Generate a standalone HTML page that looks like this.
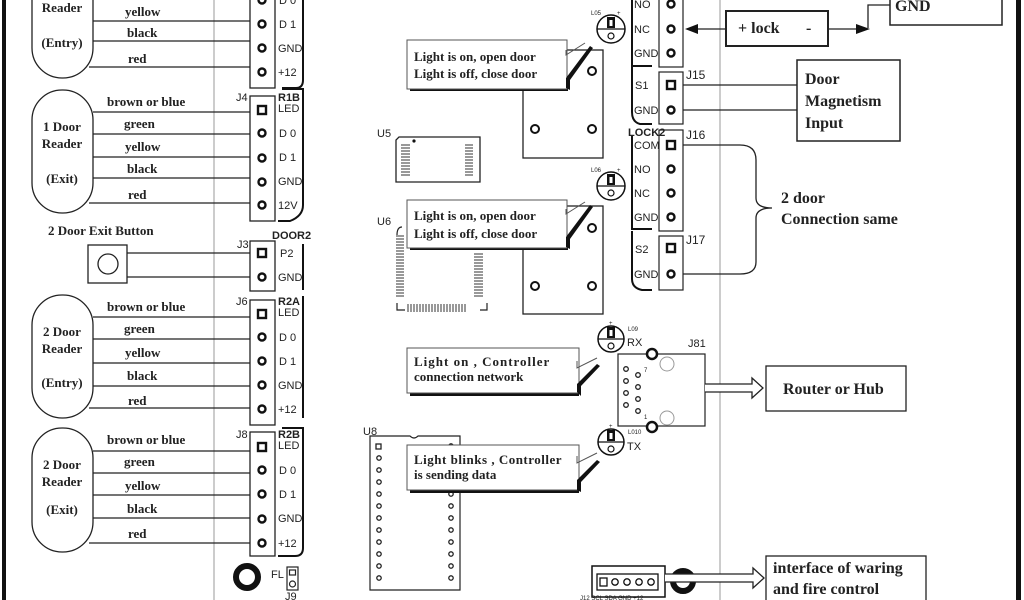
<!DOCTYPE html>
<html><head><meta charset="utf-8"><style>
html,body{margin:0;padding:0;background:#fff}
svg{display:block}
.s{font-family:"Liberation Serif",serif;font-weight:bold;font-size:13px;fill:#222}
.b{font-family:"Liberation Serif",serif;font-weight:bold;font-size:16px;fill:#222}
.p{font-family:"Liberation Sans",sans-serif;font-size:11px;fill:#222}
.t{font-family:"Liberation Sans",sans-serif;font-size:6px;fill:#222}
</style></head><body>
<svg width="1024" height="600" viewBox="0 0 1024 600" xmlns="http://www.w3.org/2000/svg">
<rect width="1024" height="600" fill="#fff"/>
<!-- borders -->
<rect x="2" y="0" width="4" height="600" fill="#111"/>
<rect x="1016" y="0" width="5" height="600" fill="#111"/>
<line x1="214" y1="0" x2="214" y2="600" stroke="#999" stroke-width="1"/>
<line x1="720" y1="0" x2="720" y2="600" stroke="#999" stroke-width="1"/>

<g stroke="#222" stroke-width="1.3" fill="none">
<!-- Reader ovals -->
<rect x="32" y="-45" width="61" height="123" rx="30"/>
<rect x="32" y="90" width="61" height="123" rx="30"/>
<rect x="32" y="295" width="61" height="123" rx="30"/>
<rect x="32" y="428" width="61" height="124" rx="30"/>
<!-- wires -->
<path d="M93 21H250M93 41H250M89 67H250"/>
<path d="M93 112H250M93 134H250M93 157H250M93 178H250M89 203H250"/>
<path d="M93 317H250M93 339H250M93 363H250M93 386H250M89 408H250"/>
<path d="M93 451H250M93 473H250M93 495H250M93 518H250M89 543H250"/>
<!-- exit button -->
<rect x="88" y="245" width="39" height="38"/>
<circle cx="108" cy="264" r="10"/>
<path d="M127 253H250M127 277H250"/>
<!-- connector boxes -->
<rect x="250" y="-10" width="25" height="98"/>
<rect x="250" y="96" width="25" height="125"/>
<rect x="250" y="241" width="25" height="50"/>
<rect x="250" y="300" width="25" height="125"/>
<rect x="250" y="432" width="25" height="124"/>
</g>
<!-- board edge brackets left -->
<g stroke="#111" stroke-width="2" fill="none">
<path d="M303 0V80Q303 88 296 88H282"/>
<path d="M282 89H303V205Q303 216 290 221H278"/>
<path d="M303 244V290"/>
<path d="M303 296V418"/>
<path d="M282 428H303V548Q303 556 295 556H278"/>
</g>
<!-- pins left -->
<g fill="none" stroke="#111" stroke-width="2.4">
<circle cx="262" cy="0" r="3.5"/><circle cx="262" cy="24" r="3.5"/><circle cx="262" cy="48" r="3.5"/><circle cx="262" cy="72" r="3.5"/>
<circle cx="262" cy="133" r="3.5"/><circle cx="262" cy="158" r="3.5"/><circle cx="262" cy="182" r="3.5"/><circle cx="262" cy="205" r="3.5"/>
<circle cx="262" cy="277" r="3.5"/>
<circle cx="262" cy="337" r="3.5"/><circle cx="262" cy="361" r="3.5"/><circle cx="262" cy="385" r="3.5"/><circle cx="262" cy="409" r="3.5"/>
<circle cx="262" cy="470" r="3.5"/><circle cx="262" cy="494" r="3.5"/><circle cx="262" cy="519" r="3.5"/><circle cx="262" cy="543" r="3.5"/>
<rect x="258" y="106" width="8" height="8"/><rect x="258" y="249" width="8" height="8"/><rect x="258" y="310" width="8" height="8"/><rect x="258" y="443" width="8" height="8"/>
</g>
<circle cx="247" cy="577" r="11" fill="none" stroke="#111" stroke-width="6"/>
<g fill="none" stroke="#222" stroke-width="1.2"><rect x="287" y="567" width="11" height="23"/><rect x="289.5" y="570" width="6" height="5"/><circle cx="292.5" cy="584" r="3"/></g>
<text class="p" x="271" y="578">FL</text><text class="p" x="285" y="600">J9</text>

<!-- left texts -->
<g class="s" text-anchor="middle">
<text x="62" y="12">Reader</text><text x="62" y="47">(Entry)</text>
<text x="62" y="131">1 Door</text><text x="62" y="148">Reader</text><text x="62" y="183">(Exit)</text>
<text x="62" y="336">2 Door</text><text x="62" y="353">Reader</text><text x="62" y="387">(Entry)</text>
<text x="62" y="469">2 Door</text><text x="62" y="486">Reader</text><text x="62" y="514">(Exit)</text>
</g>
<g class="s">
<text x="125" y="16">yellow</text><text x="127" y="37">black</text><text x="128" y="63">red</text>
<text x="107" y="106">brown or blue</text><text x="124" y="128">green</text><text x="125" y="151">yellow</text><text x="127" y="173">black</text><text x="128" y="199">red</text>
<text x="48" y="235">2 Door Exit Button</text>
<text x="107" y="311">brown or blue</text><text x="124" y="333">green</text><text x="125" y="357">yellow</text><text x="127" y="380">black</text><text x="128" y="405">red</text>
<text x="107" y="444">brown or blue</text><text x="124" y="466">green</text><text x="125" y="490">yellow</text><text x="127" y="513">black</text><text x="128" y="538">red</text>
</g>
<g class="p">
<text x="279" y="4">D 0</text><text x="279" y="28">D 1</text><text x="278" y="52">GND</text><text x="278" y="76">+12</text>
<text x="236" y="101">J4</text><text x="278" y="101" font-weight="bold">R1B</text><text x="278" y="112">LED</text>
<text x="279" y="137">D 0</text><text x="279" y="161">D 1</text><text x="278" y="185">GND</text><text x="278" y="209">12V</text>
<text x="272" y="239" font-weight="bold">DOOR2</text><text x="237" y="248">J3</text><text x="280" y="257">P2</text><text x="278" y="281">GND</text>
<text x="236" y="305">J6</text><text x="278" y="305" font-weight="bold">R2A</text><text x="278" y="316">LED</text>
<text x="279" y="341">D 0</text><text x="279" y="365">D 1</text><text x="278" y="389">GND</text><text x="278" y="413">+12</text>
<text x="236" y="438">J8</text><text x="278" y="438" font-weight="bold">R2B</text><text x="278" y="449">LED</text>
<text x="279" y="474">D 0</text><text x="279" y="498">D 1</text><text x="278" y="522">GND</text><text x="278" y="547">+12</text>
</g>

<!-- middle: relays -->
<g stroke="#222" stroke-width="1.3" fill="none">
<rect x="523" y="50" width="80" height="108"/>
<rect x="523" y="206" width="80" height="108"/>
</g>
<g fill="none" stroke="#111" stroke-width="2">
<circle cx="592" cy="71" r="4"/><circle cx="535" cy="129" r="4"/><circle cx="592" cy="129" r="4"/>
<circle cx="592" cy="228" r="4"/><circle cx="535" cy="286" r="4"/><circle cx="592" cy="286" r="4"/>
</g>
<!-- U5 -->
<text class="p" x="377" y="137">U5</text>
<path d="M399 137H480V182H396V140Z" fill="none" stroke="#222" stroke-width="1.3"/>
<g stroke="#333" stroke-width="1"><path d="M401 145H410M401 148H410M401 151H410M401 154H410M401 157H410M401 160H410M401 163H410M401 166H410M401 169H410M401 172H410M401 175H410"/>
<path d="M465 145H473M465 148H473M465 151H473M465 154H473M465 157H473M465 160H473M465 163H473M465 166H473M465 169H473M465 172H473M465 175H473"/></g>
<circle cx="414" cy="141" r="1.6" fill="#111"/>
<!-- U6 -->
<text class="p" x="377" y="225">U6</text>
<path d="M397 235Q397 227 402 227M397 303V310H405" fill="none" stroke="#222" stroke-width="1.2"/>
<g stroke="#333" stroke-width="1">
<path d="M396 236H404M396 239H404M396 242H404M396 245H404M396 248H404M396 251H404M396 254H404M396 257H404M396 260H404M396 263H404M396 266H404M396 269H404M396 272H404M396 275H404M396 278H404M396 281H404M396 284H404M396 287H404M396 290H404M396 293H404M396 296H404"/>
<path d="M474 254H483M474 257H483M474 260H483M474 263H483M474 266H483M474 269H483M474 272H483M474 275H483M474 278H483M474 281H483M474 284H483M474 287H483M474 290H483M474 293H483M474 296H483"/>
<path d="M408 304V312M411 304V312M414 304V312M417 304V312M420 304V312M423 304V312M426 304V312M429 304V312M432 304V312M435 304V312M438 304V312M441 304V312M444 304V312M447 304V312M450 304V312M453 304V312M456 304V312M459 304V312M462 304V312M465 304V312"/>
</g>
<path d="M480 310H487V303" fill="none" stroke="#222" stroke-width="1.2"/>

<!-- LEDs -->
<g stroke="#111" stroke-width="1.5" fill="#fff">
<circle cx="611" cy="29" r="14"/><circle cx="611" cy="186" r="14"/><circle cx="611" cy="339" r="13"/><circle cx="611" cy="442" r="13"/>
</g>
<g stroke="#111" stroke-width="1.2" fill="none">
<path d="M597 29H625M597 186H625M598 339H624M598 442H624"/>
<circle cx="611" cy="36" r="3"/><circle cx="611" cy="193" r="3"/><circle cx="611" cy="346" r="3"/><circle cx="611" cy="449" r="3"/>
</g>
<g fill="#111"><rect x="607" y="17" width="8" height="11"/><rect x="607" y="174" width="8" height="11"/><rect x="607" y="327" width="8" height="11"/><rect x="607" y="430" width="8" height="11"/></g>
<g fill="#fff"><rect x="609.5" y="20" width="3" height="6"/><rect x="609.5" y="177" width="3" height="6"/><rect x="609.5" y="330" width="3" height="6"/><rect x="609.5" y="433" width="3" height="6"/></g>
<g class="t"><text x="591" y="15">L05</text><text x="617" y="15">+</text><text x="591" y="172">L06</text><text x="617" y="172">+</text>
<text x="628" y="331">L09</text><text x="609" y="325">+</text><text x="628" y="434">L010</text><text x="609" y="428">+</text></g>
<text class="p" x="627" y="346">RX</text><text class="p" x="627" y="450">TX</text>

<!-- callouts -->
<g>
<rect x="410" y="86" width="158" height="5" fill="#111"/>
<rect x="407" y="40" width="160" height="49" fill="#fff" stroke="#555" stroke-width="1"/>
<path d="M566 88V78L590 46L593 48L570 80V90Z" fill="#111"/><path d="M566 50V55L585 43" stroke="#555" fill="none"/>
<text class="s" x="414" y="61">Light is on, open door</text><text class="s" x="414" y="78">Light is off, close door</text>

<rect x="410" y="245" width="158" height="5" fill="#111"/>
<rect x="407" y="200" width="160" height="48" fill="#fff" stroke="#555" stroke-width="1"/>
<path d="M566 247V237L590 205L593 207L570 239V249Z" fill="#111"/><path d="M566 209V214L585 202" stroke="#555" fill="none"/>
<text class="s" x="414" y="220">Light is on, open door</text><text class="s" x="414" y="238">Light is off, close door</text>

<rect x="410" y="392" width="169" height="4" fill="#111"/>
<rect x="407" y="348" width="172" height="45" fill="#fff" stroke="#555" stroke-width="1"/>
<path d="M577 392V384L597 364L600 366L581 386V396Z" fill="#111"/><path d="M577 361V368L597 358" stroke="#555" fill="none"/>
<text class="s" x="414" y="366" letter-spacing="1">Light on , Controller</text><text class="s" x="414" y="381">connection network</text>

<!-- U8 behind -->
<text class="p" x="363" y="435">U8</text>
<path d="M370 436H410Q414 440 418 436H460V590H370Z" fill="#fff" stroke="#222" stroke-width="1.2"/>
<g fill="none" stroke="#222" stroke-width="1.3">
<rect x="376" y="444" width="5" height="5"/>
<circle cx="379" cy="458" r="2.2"/><circle cx="379" cy="470" r="2.2"/><circle cx="379" cy="482" r="2.2"/><circle cx="379" cy="494" r="2.2"/><circle cx="379" cy="506" r="2.2"/><circle cx="379" cy="518" r="2.2"/><circle cx="379" cy="530" r="2.2"/><circle cx="379" cy="542" r="2.2"/><circle cx="379" cy="554" r="2.2"/><circle cx="379" cy="566" r="2.2"/><circle cx="379" cy="578" r="2.2"/>
<circle cx="451" cy="446" r="2.2"/><circle cx="451" cy="494" r="2.2"/><circle cx="451" cy="506" r="2.2"/><circle cx="451" cy="518" r="2.2"/><circle cx="451" cy="530" r="2.2"/><circle cx="451" cy="542" r="2.2"/><circle cx="451" cy="554" r="2.2"/><circle cx="451" cy="566" r="2.2"/><circle cx="451" cy="578" r="2.2"/>
</g>

<rect x="410" y="488" width="169" height="5" fill="#111"/>
<rect x="407" y="445" width="172" height="45" fill="#fff" stroke="#555" stroke-width="1"/>
<path d="M577 490V480L597 460L600 462L581 482V492Z" fill="#111"/><path d="M577 456V463L597 453" stroke="#555" fill="none"/>
<text class="s" x="414" y="464" letter-spacing="0.5">Light blinks , Controller</text><text class="s" x="414" y="479">is sending data</text>
</g>

<!-- J81 -->
<text class="p" x="688" y="347" font-size="12">J81</text>
<rect x="618" y="354" width="87" height="72" fill="none" stroke="#222" stroke-width="1.2"/>
<g fill="#fff" stroke="#111" stroke-width="2.5"><circle cx="652" cy="354" r="5"/><circle cx="652" cy="427" r="5"/></g>
<g fill="none" stroke="#999" stroke-width="1"><circle cx="667" cy="364" r="7"/><circle cx="667" cy="418" r="7"/></g>
<g fill="none" stroke="#222" stroke-width="1.3">
<circle cx="626" cy="369" r="2.3"/><circle cx="626" cy="381" r="2.3"/><circle cx="626" cy="393" r="2.3"/><circle cx="626" cy="405" r="2.3"/>
<circle cx="638" cy="375" r="2.3"/><circle cx="638" cy="387" r="2.3"/><circle cx="638" cy="399" r="2.3"/><circle cx="638" cy="411" r="2.3"/>
</g>
<text class="t" x="644" y="372">7</text><text class="t" x="644" y="419">1</text>
<!-- hollow arrows -->
<path d="M705 384H752V378L763 388L752 398V392H705" fill="#fff" stroke="#222" stroke-width="1.3"/>
<rect x="766" y="366" width="140" height="45" fill="none" stroke="#222" stroke-width="1.3"/>
<text class="b" x="783" y="394">Router or Hub</text>

<!-- bottom connector -->
<rect x="592" y="566" width="73" height="31" fill="none" stroke="#111" stroke-width="1.5"/>
<rect x="597" y="574" width="61" height="16" fill="none" stroke="#111" stroke-width="1.3"/>
<g fill="none" stroke="#111" stroke-width="1.3"><rect x="600" y="578" width="7" height="8"/><circle cx="615" cy="582" r="3.2"/><circle cx="627" cy="582" r="3.2"/><circle cx="639" cy="582" r="3.2"/><circle cx="651" cy="582" r="3.2"/></g>
<text class="t" x="580" y="600">J12 SCL SDA GND   +12</text>
<circle cx="683" cy="581" r="10" fill="none" stroke="#111" stroke-width="6"/>
<path d="M665 574H753V568L764 578L753 588V582H665" fill="#fff" stroke="#222" stroke-width="1.3"/>
<rect x="766" y="556" width="160" height="50" fill="none" stroke="#222" stroke-width="1.3"/>
<text class="b" x="773" y="573">interface of waring</text><text class="b" x="773" y="594">and fire control</text>

<!-- right connectors -->
<g stroke="#222" stroke-width="1.2" fill="none">
<rect x="659" y="-10" width="24" height="77"/>
<rect x="659" y="72" width="24" height="52"/>
<rect x="659" y="130" width="24" height="101"/>
<rect x="659" y="236" width="24" height="54"/>
</g>
<g stroke="#111" stroke-width="2" fill="none">
<path d="M632 0V66H652"/>
<path d="M632 67V112Q632 122 640 124H652"/>
<path d="M632 135V229H652"/>
<path d="M632 231V279Q632 288 642 290H652"/>
</g>
<g fill="none" stroke="#111" stroke-width="2.4">
<circle cx="671" cy="4" r="3.5"/><circle cx="671" cy="29" r="3.5"/><circle cx="671" cy="53" r="3.5"/>
<rect x="667" y="81" width="8" height="8"/><circle cx="671" cy="110" r="3.5"/>
<rect x="667" y="141" width="8" height="8"/><circle cx="671" cy="169" r="3.5"/><circle cx="671" cy="193" r="3.5"/><circle cx="671" cy="217" r="3.5"/>
<rect x="667" y="244" width="8" height="8"/><circle cx="671" cy="274" r="3.5"/>
</g>
<g class="p">
<text x="634" y="8">NO</text><text x="634" y="33">NC</text><text x="634" y="57">GND</text>
<text x="635" y="89">S1</text><text x="634" y="114">GND</text>
<text x="628" y="136" font-weight="bold">LOCK2</text>
<text x="634" y="149">COM</text><text x="634" y="173">NO</text><text x="634" y="197">NC</text><text x="634" y="221">GND</text>
<text x="635" y="253">S2</text><text x="634" y="278">GND</text>
<text x="686" y="79" font-size="12">J15</text><text x="686" y="139" font-size="12">J16</text><text x="686" y="244" font-size="12">J17</text>
</g>
<!-- lock -->
<g stroke="#222" stroke-width="1.3" fill="none">
<path d="M696 29H726M828 29H860M868 28V5H890"/>
<rect x="726" y="11" width="102" height="35" stroke-width="2"/>
<rect x="890" y="-5" width="112" height="30" stroke-width="1.5"/>
<path d="M683 85H797M683 110H797"/>
<rect x="797" y="60" width="103" height="81" stroke-width="1.5"/>
<path d="M683 145H740Q756 145 756 160V198Q756 208 772 208Q756 208 756 218V262Q756 274 740 274H683"/>
</g>
<path d="M685 29L698 24V34Z" fill="#111"/><path d="M870 29L856 24V34Z" fill="#111"/>
<text class="b" x="738" y="33">+ lock</text><text class="b" x="806" y="33">-</text>
<text class="b" x="895" y="11">GND</text>
<text class="b" x="805" y="84">Door</text><text class="b" x="805" y="106">Magnetism</text><text class="b" x="805" y="128">Input</text>
<text class="b" x="781" y="203" font-size="15">2 door</text><text class="b" x="781" y="224" font-size="15">Connection same</text>
</svg>
</body></html>
